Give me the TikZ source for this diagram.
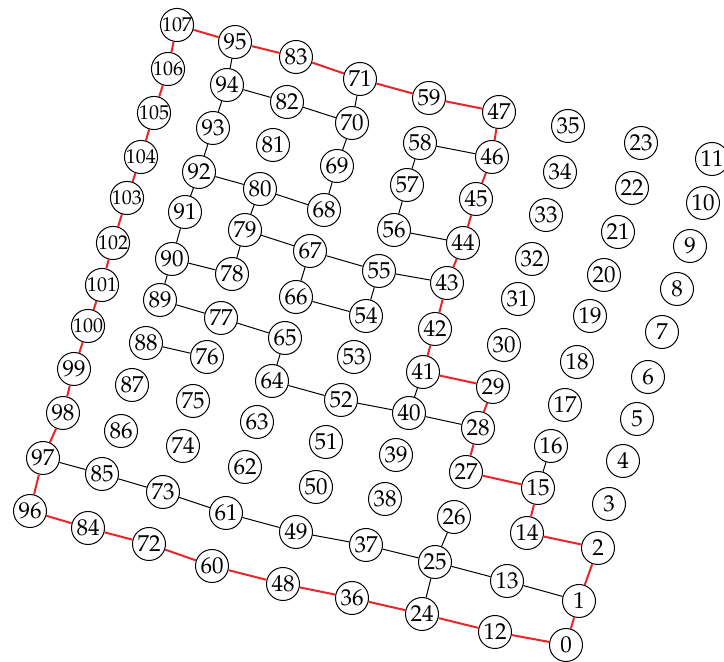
\documentclass[tikz,border=0pt]{standalone}
\usepackage[T1]{fontenc}
\usepackage{mathpazo}
\usepackage{xcolor}
\usepackage{tikz}
\definecolor{boundary}{HTML}{E8262A}
\tikzset{
  lattice site/.style={
    circle,
    draw=black,
    line width=0.5pt,
    fill=white,
    minimum size=16.5pt,
    inner sep=0pt,
    font=\fontsize{11.5}{12}\selectfont
  },
  lattice site wide/.style={
    lattice site,
    font=\fontsize{10}{10}\selectfont
  },
  bond/.style={
    line width=0.5pt,
    color=black
  },
  boundary bond/.style={
    line width=1pt,
    color=boundary
  }
}
\begin{document}
\begin{tikzpicture}[x=0.5pt, y=-0.5pt]
  \useasboundingbox (0,0) rectangle (724,662);
  % Column 0
  \node[lattice site] (n0) at (566,645) {0};
  \node[lattice site] (n1) at (579,601) {1};
  \node[lattice site] (n2) at (598,548) {2};
  \node[lattice site] (n3) at (609,504) {3};
  \node[lattice site] (n4) at (623,461) {4};
  \node[lattice site] (n5) at (637,419) {5};
  \node[lattice site] (n6) at (648,377) {6};
  \node[lattice site] (n7) at (662,332) {7};
  \node[lattice site] (n8) at (677,289) {8};
  \node[lattice site] (n9) at (690,246) {9};
  \node[lattice site] (n10) at (703,203) {10};
  \node[lattice site] (n11) at (712,159) {11};

  % Column 1
  \node[lattice site] (n12) at (495,632) {12};
  \node[lattice site] (n13) at (507,581) {13};
  \node[lattice site] (n14) at (527,533) {14};
  \node[lattice site] (n15) at (538,488) {15};
  \node[lattice site] (n16) at (551,446) {16};
  \node[lattice site] (n17) at (565,405) {17};
  \node[lattice site] (n18) at (577,362) {18};
  \node[lattice site] (n19) at (590,316) {19};
  \node[lattice site] (n20) at (604,275) {20};
  \node[lattice site] (n21) at (618,232) {21};
  \node[lattice site] (n22) at (632,188) {22};
  \node[lattice site] (n23) at (641,143) {23};

  % Column 2
  \node[lattice site] (n24) at (422,614) {24};
  \node[lattice site] (n25) at (435,562) {25};
  \node[lattice site] (n26) at (454,517) {26};
  \node[lattice site] (n27) at (466,472) {27};
  \node[lattice site] (n28) at (478,428) {28};
  \node[lattice site] (n29) at (493,387) {29};
  \node[lattice site] (n30) at (504,345) {30};
  \node[lattice site] (n31) at (518,299) {31};
  \node[lattice site] (n32) at (532,259) {32};
  \node[lattice site] (n33) at (546,215) {33};
  \node[lattice site] (n34) at (560,172) {34};
  \node[lattice site] (n35) at (568,126) {35};

  % Column 3
  \node[lattice site] (n36) at (352,598) {36};
  \node[lattice site] (n37) at (366,545) {37};
  \node[lattice site] (n38) at (385,499) {38};
  \node[lattice site] (n39) at (396,455) {39};
  \node[lattice site] (n40) at (409,413) {40};
  \node[lattice site] (n41) at (423,372) {41};
  \node[lattice site] (n42) at (435,329) {42};
  \node[lattice site] (n43) at (447,283) {43};
  \node[lattice site] (n44) at (463,243) {44};
  \node[lattice site] (n45) at (476,199) {45};
  \node[lattice site] (n46) at (492,157) {46};
  \node[lattice site] (n47) at (499,112) {47};

  % Column 4
  \node[lattice site] (n48) at (283,584) {48};
  \node[lattice site] (n49) at (296,532) {49};
  \node[lattice site] (n50) at (316,487) {50};
  \node[lattice site] (n51) at (326,442) {51};
  \node[lattice site] (n52) at (341,400) {52};
  \node[lattice site] (n53) at (354,357) {53};
  \node[lattice site] (n54) at (366,316) {54};
  \node[lattice site] (n55) at (379,271) {55};
  \node[lattice site] (n56) at (394,230) {56};
  \node[lattice site] (n57) at (407,185) {57};
  \node[lattice site] (n58) at (420,143) {58};
  \node[lattice site] (n59) at (429,98) {59};

  % Column 5
  \node[lattice site] (n60) at (212,566) {60};
  \node[lattice site] (n61) at (226,513) {61};
  \node[lattice site] (n62) at (245,467) {62};
  \node[lattice site] (n63) at (257,422) {63};
  \node[lattice site] (n64) at (272,381) {64};
  \node[lattice site] (n65) at (285,338) {65};
  \node[lattice site] (n66) at (296,297) {66};
  \node[lattice site] (n67) at (310,251) {67};
  \node[lattice site] (n68) at (324,210) {68};
  \node[lattice site] (n69) at (337,166) {69};
  \node[lattice site] (n70) at (352,123) {70};
  \node[lattice site] (n71) at (360,79) {71};

  % Column 6
  \node[lattice site] (n72) at (149,544) {72};
  \node[lattice site] (n73) at (163,492) {73};
  \node[lattice site] (n74) at (183,446) {74};
  \node[lattice site] (n75) at (193,401) {75};
  \node[lattice site] (n76) at (207,357) {76};
  \node[lattice site] (n77) at (221,318) {77};
  \node[lattice site] (n78) at (232,274) {78};
  \node[lattice site] (n79) at (245,230) {79};
  \node[lattice site] (n80) at (260,189) {80};
  \node[lattice site] (n81) at (273,145) {81};
  \node[lattice site] (n82) at (287,102) {82};
  \node[lattice site] (n83) at (296,57) {83};

  % Column 7
  \node[lattice site] (n84) at (88,528) {84};
  \node[lattice site] (n85) at (102,474) {85};
  \node[lattice site] (n86) at (121,431) {86};
  \node[lattice site] (n87) at (132,385) {87};
  \node[lattice site] (n88) at (146,343) {88};
  \node[lattice site] (n89) at (160,300) {89};
  \node[lattice site] (n90) at (172,259) {90};
  \node[lattice site] (n91) at (185,212) {91};
  \node[lattice site] (n92) at (199,172) {92};
  \node[lattice site] (n93) at (213,128) {93};
  \node[lattice site] (n94) at (227,85) {94};
  \node[lattice site] (n95) at (235,42) {95};

  % Column 8
  \node[lattice site] (n96) at (30,511) {96};
  \node[lattice site] (n97) at (43,458) {97};
  \node[lattice site] (n98) at (63,413) {98};
  \node[lattice site] (n99) at (74,369) {99};
  \node[lattice site wide] (n100) at (88,326) {100};
  \node[lattice site wide] (n101) at (102,285) {101};
  \node[lattice site wide] (n102) at (113,243) {102};
  \node[lattice site wide] (n103) at (127,198) {103};
  \node[lattice site wide] (n104) at (141,157) {104};
  \node[lattice site wide] (n105) at (154,113) {105};
  \node[lattice site wide] (n106) at (168,69) {106};
  \node[lattice site wide] (n107) at (177,25) {107};

  % Outer loop
  \draw[boundary bond] (n107) -- (n95) -- (n83) -- (n71) -- (n59) -- (n47)
    -- (n46) -- (n45) -- (n44) -- (n43) -- (n42) -- (n41) -- (n29) -- (n28)
    -- (n27) -- (n15) -- (n14) -- (n2) -- (n1) -- (n0) -- (n12) -- (n24)
    -- (n36) -- (n48) -- (n60) -- (n72) -- (n84) -- (n96) -- (n97) -- (n98)
    -- (n99) -- (n100) -- (n101) -- (n102) -- (n103) -- (n104) -- (n105)
    -- (n106) -- (n107);

  % Inner bonds
  \draw[bond] (n95) -- (n94) -- (n93) -- (n92) -- (n91) -- (n90) -- (n89)
    -- (n77) -- (n65) -- (n64) -- (n52) -- (n40) -- (n28);
  \draw[bond] (n40) -- (n41);
  \draw[bond] (n94) -- (n82) -- (n70) -- (n69) -- (n68) -- (n80) -- (n92);
  \draw[bond] (n71) -- (n70);
  \draw[bond] (n80) -- (n79) -- (n78) -- (n90);
  \draw[bond] (n79) -- (n67) -- (n55) -- (n43);
  \draw[bond] (n67) -- (n66) -- (n54) -- (n55);
  \draw[bond] (n46) -- (n58) -- (n57) -- (n56) -- (n44);
  \draw[bond] (n88) -- (n76);
  \draw[bond] (n97) -- (n85) -- (n73) -- (n61) -- (n49) -- (n37) -- (n25)
    -- (n13) -- (n1);
  \draw[bond] (n26) -- (n25) -- (n24);
  \draw[bond] (n16) -- (n15);
\end{tikzpicture}
\end{document}
